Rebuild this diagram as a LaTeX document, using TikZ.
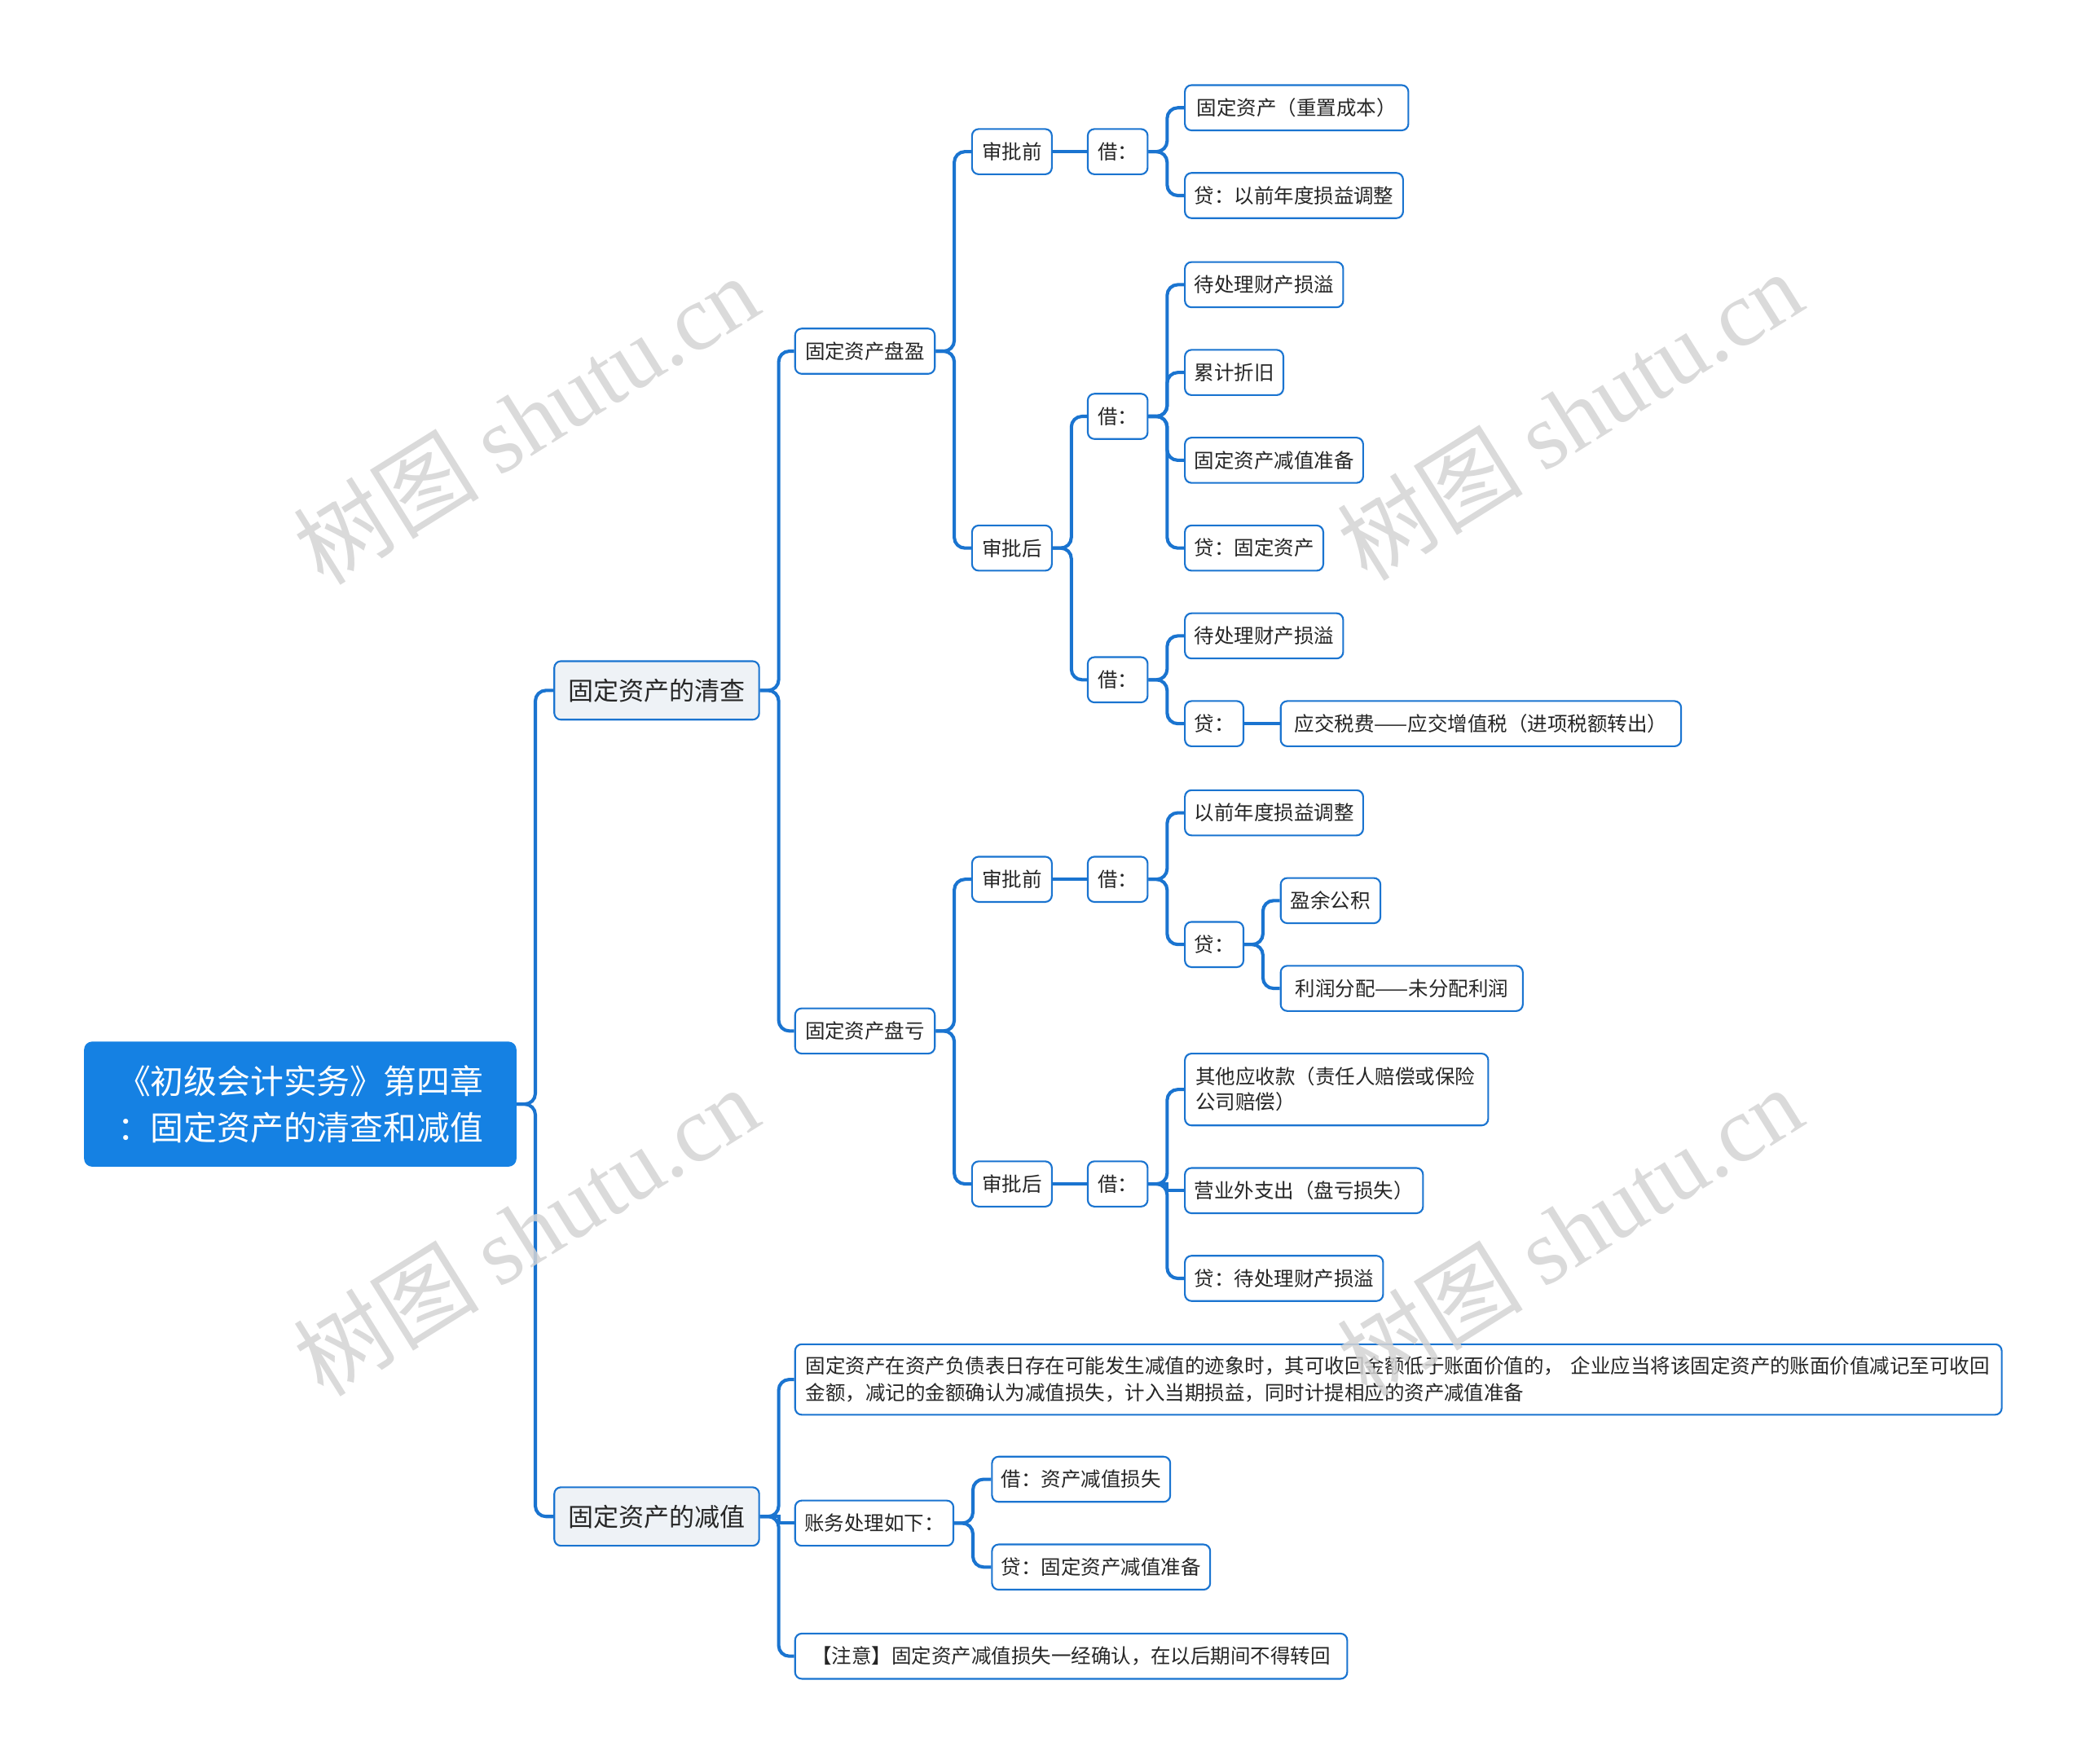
\documentclass[tikz,border=0pt]{standalone}
\usepackage{fontspec}
\setmainfont{Noto Sans CJK SC}
\newfontfamily\wmfont{Liberation Serif}
\definecolor{lineblue}{HTML}{1A74D0}
\definecolor{rootblue}{HTML}{1581E3}
\definecolor{lvone}{HTML}{EEF2F6}
\definecolor{wmgray}{HTML}{D4D4D4}
\tikzset{
 box/.style={draw=lineblue, line width=1.3pt, rounded corners=5pt, fill=white, minimum height=34pt, inner sep=0pt, anchor=west, font=\fontsize{15}{19}\selectfont, text=black!85},
 lvbox/.style={box, fill=lvone, minimum height=44pt, minimum width=154pt, font=\fontsize{19}{23}\selectfont},
 conn/.style={draw=lineblue, line width=2.5pt, rounded corners=8pt},
 wm/.style={text=wmgray, text opacity=0.85, font=\fontsize{70}{70}\selectfont, rotate=32},
}
\begin{document}
\begin{tikzpicture}[x=1pt,y=-1pt]
\useasboundingbox (0,0) rectangle (1568,1326);
\fill[white] (0,0) rectangle (1568,1326);
% root
\node[fill=rootblue, rounded corners=6pt, minimum width=325pt, minimum height=94pt, inner sep=0pt, anchor=west, align=center, text=white, font=\fontsize{25}{35}\selectfont] (root) at (63,830) {《初级会计实务》第四章\\：固定资产的清查和减值};
% level 1
\node[lvbox] (qc) at (416,519) {固定资产的清查};
\node[lvbox] (jz) at (416,1140) {固定资产的减值};
% level 2
\node[box, minimum width=105pt] (py) at (597,264) {固定资产盘盈};
\node[box, minimum width=105pt] (pk) at (597,775) {固定资产盘亏};
% 盘盈
\node[box, minimum width=60pt] (pyq) at (730,114) {审批前};
\node[box, minimum width=60pt] (pyh) at (730,412) {审批后};
\node[box, minimum width=45pt] (pyqj) at (817,114) {借：};
\node[box, minimum width=168pt] (a1) at (890,81) {固定资产（重置成本）};
\node[box, minimum width=164pt] (a2) at (890,147) {贷：以前年度损益调整};
\node[box, minimum width=45pt] (pyhj1) at (817,313) {借：};
\node[box, minimum width=45pt] (pyhj2) at (817,511) {借：};
\node[box, minimum width=119pt] (b1) at (890,214) {待处理财产损溢};
\node[box, minimum width=74pt] (b2) at (890,280) {累计折旧};
\node[box, minimum width=134pt] (b3) at (890,346) {固定资产减值准备};
\node[box, minimum width=104pt] (b4) at (890,412) {贷：固定资产};
\node[box, minimum width=119pt] (c1) at (890,478) {待处理财产损溢};
\node[box, minimum width=44pt] (c2) at (890,544) {贷：};
\node[box, minimum width=301pt] (c3) at (962,544) {应交税费——应交增值税（进项税额转出）};
% 盘亏
\node[box, minimum width=60pt] (pkq) at (730,661) {审批前};
\node[box, minimum width=60pt] (pkh) at (730,890) {审批后};
\node[box, minimum width=45pt] (pkqj) at (817,661) {借：};
\node[box, minimum width=134pt] (d1) at (890,611) {以前年度损益调整};
\node[box, minimum width=44pt] (d2) at (890,710) {贷：};
\node[box, minimum width=75pt] (d3) at (962,677) {盈余公积};
\node[box, minimum width=182pt] (d4) at (962,743) {利润分配——未分配利润};
\node[box, minimum width=45pt] (pkhj) at (817,890) {借：};
\node[box, minimum width=228pt, minimum height=54pt, text width=212pt, align=left] (e1) at (890,819) {其他应收款（责任人赔偿或保险\\公司赔偿）};
\node[box, minimum width=179pt] (e2) at (890,895) {营业外支出（盘亏损失）};
\node[box, minimum width=149pt] (e3) at (890,961) {贷：待处理财产损溢};
% 减值
\node[box, minimum width=907pt, minimum height=53pt, text width=891pt, align=left, font=\fontsize{15}{20}\selectfont] (f1) at (597,1037) {固定资产在资产负债表日存在可能发生减值的迹象时，其可收回金额低于账面价值的， 企业应当将该固定资产的账面价值减记至可收回\\金额，减记的金额确认为减值损失，计入当期损益，同时计提相应的资产减值准备};
\node[box, minimum width=119pt] (f2) at (597,1145) {账务处理如下：};
\node[box, minimum width=415pt] (f3) at (597,1245) {【注意】固定资产减值损失一经确认，在以后期间不得转回};
\node[box, minimum width=134pt] (g1) at (745,1112) {借：资产减值损失};
\node[box, minimum width=164pt] (g2) at (745,1178) {贷：固定资产减值准备};
% connectors
\foreach \p/\c in {root/qc, root/jz, qc/py, qc/pk, py/pyq, py/pyh, pyqj/a1, pyqj/a2, pyh/pyhj1, pyh/pyhj2, pyhj1/b1, pyhj1/b2, pyhj1/b3, pyhj1/b4, pyhj2/c1, pyhj2/c2, pk/pkq, pk/pkh, pkqj/d1, pkqj/d2, d2/d3, d2/d4, pkhj/e1, pkhj/e3, jz/f1, jz/f3, f2/g1, f2/g2}
  \draw[conn] (\p.east) -- ++(14,0) |- (\c.west);
\foreach \p/\c in {pkhj/e2, jz/f2}
  \draw[conn, sharp corners] (\p.east) -- ++(14,0) |- (\c.west);
\foreach \p/\c in {pyq/pyqj, pkq/pkqj, pkh/pkhj, c2/c3}
  \draw[conn] (\p.east) -- (\c.west);
% watermarks
\node[wm] (wm1) at (395,315) {树图 {\wmfont shutu.cn}};
\node[wm] (wm2) at (395,925) {树图 {\wmfont shutu.cn}};
\node[wm] (wm3) at (1180,312) {树图 {\wmfont shutu.cn}};
\node[wm] (wm4) at (1180,925) {树图 {\wmfont shutu.cn}};
\end{tikzpicture}
\end{document}
